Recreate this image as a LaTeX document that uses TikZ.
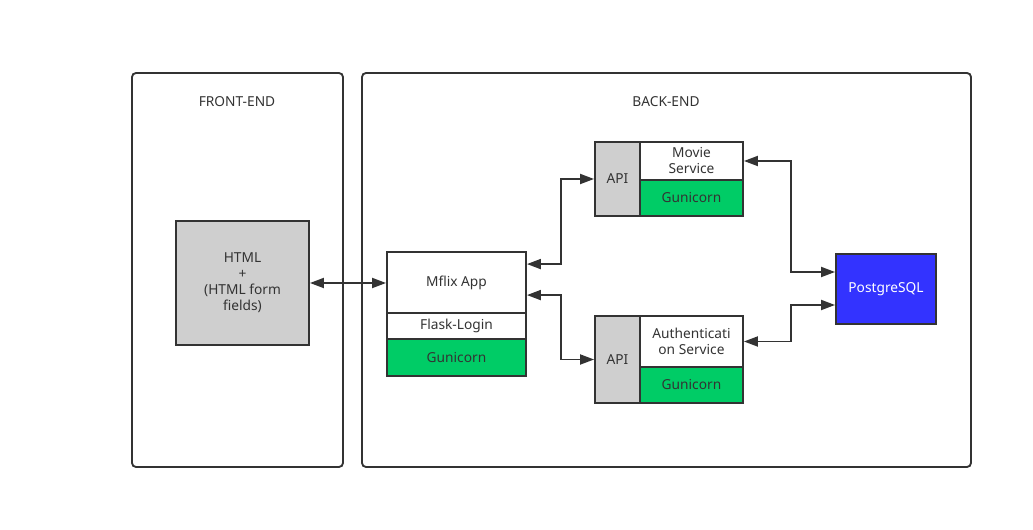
\documentclass[tikz,border=0pt]{standalone}
\usepackage{fontspec}
\setmainfont{Noto Sans}
\usepackage{tikz}
\usetikzlibrary{arrows.meta,calc}

\definecolor{ink}{HTML}{333333}
\definecolor{apigrey}{HTML}{CFCFCF}
\definecolor{gunigreen}{HTML}{00CC66}
\definecolor{pgblue}{HTML}{3333FF}

\begin{document}
\begin{tikzpicture}[x=0.75pt, y=-0.75pt,
  every node/.style={font=\fontsize{10.3}{12}\selectfont, text=ink},
  part/.style={draw=ink, line width=1.4pt, inner sep=0pt, align=center},
  area/.style={draw=ink, line width=1.4pt, rounded corners=3pt},
  link/.style={draw=ink, line width=1.4pt, {Triangle[length=10.5pt,width=7.5pt]}-{Triangle[length=10.5pt,width=7.5pt]}}]
\useasboundingbox (0,0) rectangle (1033,530);

\draw[area] (132,73) rectangle (343,467);
\draw[area] (362,73) rectangle (971,467);
\node (front) at (237,102) {FRONT-END};
\node (back) at (666,102) {BACK-END};

\node[part, fill=apigrey, minimum width=133*0.75pt, minimum height=124*0.75pt] (html) at (242.5,283) {HTML\\+\\(HTML form\\fields)};

\node[part, minimum width=139*0.75pt, minimum height=61*0.75pt] (mflix) at (456.5,282.5) {Mflix App};
\node[part, minimum width=139*0.75pt, minimum height=26*0.75pt] (flask) at (456.5,326) {Flask-Login};
\node[part, fill=gunigreen, minimum width=139*0.75pt, minimum height=37*0.75pt] (mgun) at (456.5,357.5) {Gunicorn};

\node[part, fill=apigrey, minimum width=45*0.75pt, minimum height=74*0.75pt] (mapi) at (617.5,179) {API};
\node[part, minimum width=103*0.75pt, minimum height=38*0.75pt] (msvc) at (691.5,161) {Movie\\Service};
\node[part, fill=gunigreen, minimum width=103*0.75pt, minimum height=36*0.75pt] (msgun) at (691.5,198) {Gunicorn};

\node[part, fill=apigrey, minimum width=45*0.75pt, minimum height=87*0.75pt] (aapi) at (617.5,359.5) {API};
\node[part, minimum width=103*0.75pt, minimum height=51*0.75pt] (asvc) at (691.5,341.5) {Authenticati\\on Service};
\node[part, fill=gunigreen, minimum width=103*0.75pt, minimum height=36*0.75pt] (asgun) at (691.5,385) {Gunicorn};

\node[part, fill=pgblue, text=white, minimum width=100*0.75pt, minimum height=70*0.75pt] (pg) at (886,289) {PostgreSQL};

\draw[link] (html.east) -- (html.east -| mflix.west);
\draw[link] ($(mflix.north east)+(0,13)$) -- ++(34,0) |- (mapi.west);
\draw[link] ($(mflix.north east)+(0,44)$) -- ++(34,0) |- (aapi.west);
\draw[link] (msvc.east) -- ++(47,0) |- ($(pg.west)+(0,-17)$);
\draw[link] (asvc.east) -- ++(47,0) |- ($(pg.west)+(0,16)$);
\end{tikzpicture}
\end{document}
